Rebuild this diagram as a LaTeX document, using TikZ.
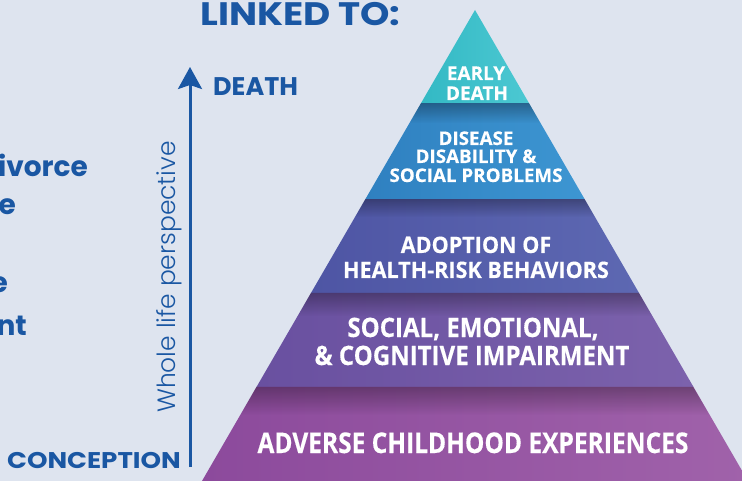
\documentclass[tikz,border=0pt]{standalone}
\usepackage{fontspec}
\usetikzlibrary{calc,fadings,arrows.meta}
\newfontfamily\pyrA{Open Sans}[FakeStretch=1.0,FakeBold=0.3]
\newfontfamily\pyrB{Open Sans}[FakeStretch=0.95,FakeBold=0.3]
\newfontfamily\pyrC{Open Sans}[FakeStretch=0.9,FakeBold=0.3]
\newfontfamily\pyrD{Open Sans}[FakeStretch=0.86,FakeBold=0.3]
\newfontfamily\geofont{Poppins}[FakeStretch=1.15]
\newfontfamily\geocut{Poppins}
\newfontfamily\geolight{Poppins Light}
\definecolor{bg}{HTML}{DEE4EF}
\definecolor{txtblue}{HTML}{1A57A3}
\definecolor{tealL}{HTML}{33B9C4}
\definecolor{tealR}{HTML}{4CC8D2}
\definecolor{blueL}{HTML}{2F80C0}
\definecolor{blueR}{HTML}{3D96D2}
\definecolor{indL}{HTML}{4E55A4}
\definecolor{indR}{HTML}{5D68B2}
\definecolor{purL}{HTML}{6950A0}
\definecolor{purR}{HTML}{7C62AC}
\definecolor{magL}{HTML}{8C4A9C}
\definecolor{magR}{HTML}{A062AA}
\tikzset{
  pyrtxt/.style={text=white, anchor=base, inner sep=0pt},
  lefttxt/.style={text=txtblue, inner sep=0pt},
}
\newcommand\pyrlayer[4]{%
  \shade[left color=#3, right color=#4]
    ($(apex)!#1!(bl)$) -- ($(apex)!#2!(bl)$) -- ($(apex)!#2!(br)$) -- ($(apex)!#1!(br)$) -- cycle;}
\newcommand\pyrshadow[2]{%
  \fill[black, opacity=0.3, path fading=south]
    ($(apex)!#1!(bl)$) -- ($(apex)!#2!(bl)$) -- ($(apex)!#2!(br)$) -- ($(apex)!#1!(br)$) -- cycle;}
\begin{document}
\begin{tikzpicture}[x=1pt,y=-1pt]
\useasboundingbox (0,0) rectangle (742,481);
\clip (0,0) rectangle (742,481);
\fill[bg] (0,0) rectangle (742,481);
\coordinate (apex) at (475,10);
\coordinate (bl) at (202,481);
\coordinate (br) at (748,481);
% layers
\pyrlayer{0}{0.1975}{tealL}{tealR}
\pyrlayer{0.1975}{0.4013}{blueL}{blueR}
\pyrlayer{0.4013}{0.6008}{indL}{indR}
\pyrlayer{0.6008}{0.8004}{purL}{purR}
\pyrlayer{0.8004}{1.0}{magL}{magR}
\pyrshadow{0.1975}{0.24}
\pyrshadow{0.4013}{0.44}
\pyrshadow{0.6008}{0.65}
\pyrshadow{0.8004}{0.86}
% pyramid texts
\node[pyrtxt, font=\pyrA\bfseries\fontsize{19}{19}\selectfont] (t1a) at (476,80) {EARLY};
\node[pyrtxt, font=\pyrA\bfseries\fontsize{19}{19}\selectfont] (t1b) at (477,100) {DEATH};
\node[pyrtxt, font=\pyrA\bfseries\fontsize{18.8}{18.8}\selectfont] (t2a) at (476,145) {DISEASE};
\node[pyrtxt, font=\pyrA\bfseries\fontsize{18.8}{18.8}\selectfont] (t2b) at (476,163) {DISABILITY \&};
\node[pyrtxt, font=\pyrA\bfseries\fontsize{18.8}{18.8}\selectfont] (t2c) at (476,182) {SOCIAL PROBLEMS};
\node[pyrtxt, font=\pyrB\bfseries\fontsize{22.7}{22.7}\selectfont] (t3a) at (476,253) {ADOPTION OF};
\node[pyrtxt, font=\pyrB\bfseries\fontsize{22.7}{22.7}\selectfont] (t3b) at (476,278) {HEALTH-RISK BEHAVIORS};
\node[pyrtxt, font=\pyrC\bfseries\fontsize{26.7}{26.7}\selectfont] (t4a) at (473,337) {SOCIAL, EMOTIONAL,};
\node[pyrtxt, font=\pyrC\bfseries\fontsize{26.7}{26.7}\selectfont] (t4b) at (472,365) {\& COGNITIVE IMPAIRMENT};
\node[pyrtxt, font=\pyrD\bfseries\fontsize{28.5}{28.5}\selectfont] (t5a) at (473,453) {ADVERSE CHILDHOOD EXPERIENCES};
% left side
\node[lefttxt, anchor=base west, font=\geofont\bfseries\fontsize{32.5}{32.5}\selectfont] (linked) at (200,26) {LINKED TO:};
\node[lefttxt, anchor=base west, font=\geocut\bfseries\fontsize{25.5}{25.5}\selectfont] (death) at (213,96) {DEATH};
\node[lefttxt, anchor=base, font=\geofont\bfseries\fontsize{22.7}{22.7}\selectfont] (conception) at (94,468) {CONCEPTION};
\node[lefttxt, anchor=base east, font=\geocut\bfseries\fontsize{28}{28}\selectfont] (c1) at (88,177) {ivorce};
\node[lefttxt, anchor=base east, font=\geocut\bfseries\fontsize{28}{28}\selectfont] (c2) at (16,215) {e};
\node[lefttxt, anchor=base east, font=\geocut\bfseries\fontsize{28}{28}\selectfont] (c3) at (8,293) {e};
\node[lefttxt, anchor=base east, font=\geocut\bfseries\fontsize{28}{28}\selectfont] (c4) at (27,335) {nt};
\node[lefttxt, anchor=base, rotate=90, font=\geolight\fontsize{25}{25}\selectfont] (whole) at (175,277) {Whole life perspective};
% arrow
\coordinate (abot) at (190,467);
\coordinate (atop) at (190,67);
\draw[txtblue, line width=3pt, -{Stealth[width=24pt,length=22pt,inset=4pt]}] (abot) -- (atop);
\end{tikzpicture}
\end{document}
